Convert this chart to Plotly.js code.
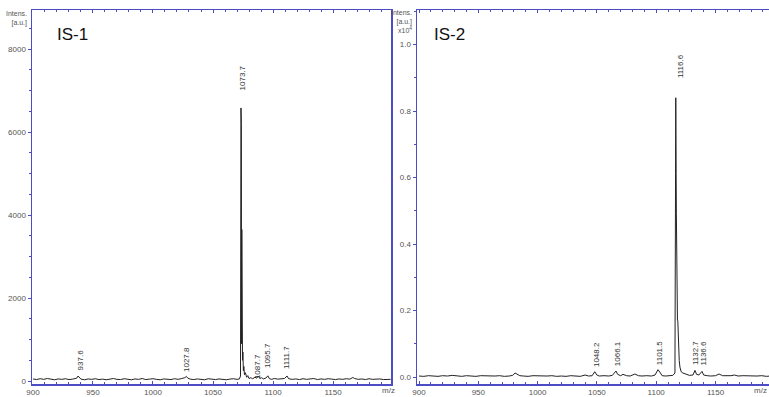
<!DOCTYPE html>
<html><head><meta charset="utf-8">
<script src="https://cdn.plot.ly/plotly-3.0.1.min.js"></script>
<style>html,body{margin:0;padding:0;background:#fff}#c{width:769px;height:397px}</style>
</head><body><div id="c"></div>
<script>
// IS-1 spectrum (m/z, intensity in a.u.)
const mz1 = [900,903,906,909,912,915,918,921,924,927,930,933,935,936.5,937.6,938.5,940,943,946,949,952,955,958,961,964,967,970,973,976,979,982,985,988,991,994,997,1000,1003,1006,1009,1012,1015,1018,1021,1024,1026.5,1027.8,1029,1031,1034,1037,1040,1043,1046,1049,1052,1055,1058,1061,1064,1067,1070,1072,1072.9,1073.3,1073.6,1073.8,1074.0,1074.2,1074.4,1074.6,1074.9,1075.3,1075.7,1076.2,1077,1078,1079,1080,1081.5,1083,1085,1086.5,1087.7,1089,1090.5,1092,1094,1095.7,1097,1099,1101,1104,1107,1109.5,1111.7,1113,1116,1119,1122,1125,1128,1131,1134,1137,1140,1143,1146,1149,1152,1155,1158,1161,1164,1166.5,1168,1171,1174,1177,1180,1183,1186,1189,1192,1195,1198];
const int1 = [50,35,55,40,60,45,30,50,40,55,35,45,60,70,120,80,45,30,50,40,55,35,45,30,50,60,40,35,55,45,30,50,40,60,35,45,55,40,30,50,45,35,55,40,60,80,110,70,45,35,50,40,30,55,45,35,50,40,30,45,55,40,50,120,6580,6200,900,3650,1400,1420,500,700,250,350,150,200,90,130,60,80,55,90,70,120,60,80,50,70,125,55,40,60,45,50,60,120,55,40,50,35,55,40,45,60,35,50,40,55,45,35,50,40,55,45,85,60,40,50,35,55,40,45,50,35,45,40];
const labels1 = ["937.6","1027.8","1073.7","1087.7","1095.7","1111.7"];
const labX1 = [939.5,1027.5,1074.5,1086.7,1095,1110.8];
const labY1 = [506,530,7300,337,602,578];

// IS-2 spectrum (m/z, intensity x10^4 a.u.)
const mz2 = [900,904,908,912,916,920,924,928,932,936,940,944,948,952,956,960,964,968,972,976,979,981,983,985,988,992,996,1000,1004,1008,1012,1016,1020,1024,1028,1032,1036,1040,1043,1046,1048.2,1050,1052,1056,1060,1063,1066.1,1067.5,1070,1072,1075,1078,1082,1085,1088,1092,1096,1099,1100,1101.5,1103,1105,1108,1111,1114,1115.8,1116.5,1116.8,1117.0,1117.3,1117.6,1117.9,1118.2,1118.5,1118.9,1119.4,1120,1121,1122.5,1125,1128,1131,1132.7,1134,1136,1138.6,1140,1143,1146,1150,1153,1156,1160,1163,1166,1169,1173,1177,1181,1185,1189,1193,1196];
const int2 = [0.003,0.002,0.004,0.003,0.002,0.004,0.003,0.005,0.003,0.002,0.004,0.003,0.002,0.004,0.003,0.002,0.003,0.004,0.002,0.003,0.005,0.012,0.009,0.004,0.003,0.002,0.004,0.003,0.002,0.003,0.004,0.002,0.003,0.002,0.004,0.003,0.002,0.006,0.003,0.004,0.016,0.006,0.003,0.004,0.003,0.005,0.018,0.008,0.004,0.008,0.004,0.003,0.009,0.004,0.003,0.004,0.003,0.006,0.014,0.022,0.015,0.004,0.003,0.004,0.005,0.012,0.84,0.613,0.493,0.30,0.286,0.17,0.17,0.12,0.072,0.05,0.03,0.016,0.012,0.008,0.005,0.006,0.02,0.008,0.006,0.017,0.006,0.004,0.003,0.004,0.009,0.004,0.003,0.004,0.006,0.003,0.004,0.003,0.002,0.003,0.004,0.002,0.003];
const labels2 = ["1048.2","1066.1","1101.5","1116.6","1132.7","1136.6"];
const labX2 = [1049.2,1067,1102.4,1120,1132.7,1139.7];
const labY2 = [0.069,0.069,0.072,0.935,0.072,0.072];

const FRAME = '#4c4cc6';
const tf = {family:'Arial, "Liberation Sans", sans-serif', size:8, color:'#555'};
const lf = {family:'Arial, "Liberation Sans", sans-serif', size:8, color:'#333'};

const traces = [
  {x:mz1, y:int1, type:'scatter', mode:'lines', line:{color:'#222', width:1}, xaxis:'x', yaxis:'y', hoverinfo:'skip'},
  {x:mz2, y:int2, type:'scatter', mode:'lines', line:{color:'#222', width:1}, xaxis:'x2', yaxis:'y2', hoverinfo:'skip'}
];

function xax(domain, range){
  return {domain:domain, range:range, tick0:900, dtick:50, ticks:'inside', ticklen:3, tickcolor:FRAME,
    showline:true, linecolor:FRAME, linewidth:1.5, mirror:'ticks', showgrid:false, zeroline:false,
    tickfont:tf, minor:{dtick:10, ticks:'inside', ticklen:2, tickcolor:FRAME}};
}
const ann = [];
labels1.forEach((t,i)=>ann.push({x:labX1[i], y:labY1[i], xref:'x', yref:'y', text:t, textangle:-90, showarrow:false, font:lf}));
labels2.forEach((t,i)=>ann.push({x:labX2[i], y:labY2[i], xref:'x2', yref:'y2', text:t, textangle:-90, showarrow:false, font:lf}));
const tfont = {family:'Arial, "Liberation Sans", sans-serif', size:17, color:'#111'};
ann.push({xref:'paper', yref:'paper', x:55/769, y:1-34/397, xanchor:'left', yanchor:'middle', text:'IS-1', showarrow:false, font:tfont});
ann.push({xref:'paper', yref:'paper', x:432/769, y:1-34/397, xanchor:'left', yanchor:'middle', text:'IS-2', showarrow:false, font:tfont});
const small = {family:'Arial, "Liberation Sans", sans-serif', size:7, color:'#555'};
ann.push({xref:'paper', yref:'paper', x:29/769, y:1-8/397, xanchor:'right', yanchor:'top', align:'right', text:'Intens.<br>[a.u.]', showarrow:false, font:small});
ann.push({xref:'paper', yref:'paper', x:414/769, y:1-7/397, xanchor:'right', yanchor:'top', align:'right', text:'Intens.<br>[a.u.]<br>x10<sup>4</sup>', showarrow:false, font:small});
ann.push({xref:'paper', yref:'paper', x:389/769, y:1-390/397, xanchor:'center', yanchor:'middle', text:'m/z', showarrow:false, font:tf});
ann.push({xref:'paper', yref:'paper', x:769/769, y:1-390/397, xanchor:'right', yanchor:'middle', text:'m/z', showarrow:false, font:tf});

const layout = {
  width:769, height:397, margin:{l:0,r:0,t:0,b:0}, paper_bgcolor:'#fff', plot_bgcolor:'#fff', showlegend:false,
  xaxis: xax([32/769, 391/769], [899.2, 1198.3]),
  xaxis2: Object.assign(xax([417/769, 1], [898.3, 1195.1]), {anchor:'y2'}),
  yaxis: {domain:[13/397, 387/397], range:[-72, 8940], dtick:2000, tick0:0, ticks:'outside', ticklen:3, tickcolor:FRAME,
    showline:true, linecolor:FRAME, linewidth:1.5, mirror:true, showgrid:false, zeroline:false, tickfont:tf,
    minor:{dtick:500, ticks:'outside', ticklen:2, tickcolor:FRAME}},
  yaxis2: {domain:[13/397, 387/397], range:[-0.021, 1.104], dtick:0.2, tick0:0, tickformat:'.1f', ticks:'outside', ticklen:3, tickcolor:FRAME,
    showline:true, linecolor:FRAME, linewidth:1.5, mirror:false, showgrid:false, zeroline:false, tickfont:tf, anchor:'x2',
    minor:{dtick:0.1, ticks:'outside', ticklen:2, tickcolor:FRAME}},
  annotations: ann
};
Plotly.newPlot('c', traces, layout, {staticPlot:true, displayModeBar:false});
</script></body></html>
